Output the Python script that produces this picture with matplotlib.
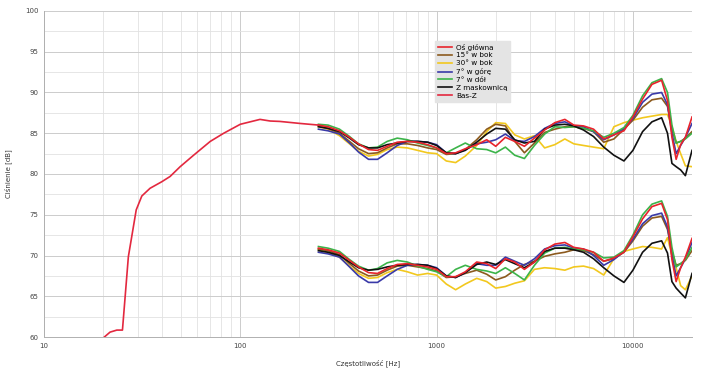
import matplotlib
matplotlib.use('Agg')
import matplotlib.pyplot as plt
from matplotlib.ticker import FixedLocator, MultipleLocator, NullFormatter

# frequency grid shared by the measured curves (Hz)
freq = [250, 280, 320, 360, 400, 450, 500, 560, 630, 710, 800, 900, 1000,
        1120, 1250, 1400, 1600, 1800, 2000, 2240, 2500, 2800, 3150, 3550,
        4000, 4500, 5000, 5600, 6300, 7100, 8000, 9000, 10000, 11200, 12500,
        14000, 15000, 15800, 16600, 17500, 18500, 20000]

# upper group (dB)
os_glowna = [86.0, 85.8, 85.3, 84.5, 83.7, 83.0, 82.9, 83.4, 83.9, 84.0, 83.9,
             83.6, 83.2, 82.5, 82.6, 83.1, 83.6, 84.2, 83.4, 84.5, 84.0, 83.4,
             84.4, 85.4, 86.3, 86.7, 86.0, 85.9, 85.5, 84.3, 84.8, 85.3, 87.0,
             89.2, 91.0, 91.5, 89.0, 84.5, 81.8, 83.6, 84.5, 87.0]
bok_15 = [85.9, 85.6, 85.0, 84.0, 83.1, 82.5, 82.6, 83.2, 83.7, 83.7, 83.5,
          83.2, 83.0, 82.4, 82.5, 83.0, 84.2, 85.5, 86.1, 85.9, 84.0, 82.6,
          83.8, 85.1, 85.5, 85.8, 85.8, 85.6, 85.2, 83.9, 84.3, 85.5, 86.6,
          88.2, 89.1, 89.3, 88.3, 85.5, 83.8, 84.0, 84.4, 85.2]
bok_30 = [85.8, 85.5, 84.7, 83.7, 82.8, 82.2, 82.4, 83.0, 83.3, 83.2, 82.9,
          82.6, 82.5, 81.6, 81.4, 82.2, 83.5, 85.2, 86.3, 86.2, 84.8, 84.3,
          84.7, 83.2, 83.6, 84.3, 83.7, 83.5, 83.3, 83.1, 85.8, 86.3, 86.6,
          86.9, 87.1, 87.3, 87.3, 85.8, 84.0, 82.5, 81.0, 80.9]
gora_7 = [85.5, 85.3, 84.9, 83.8, 82.7, 81.8, 81.8, 82.6, 83.5, 84.0, 84.0,
          83.9, 83.6, 82.6, 82.5, 83.0, 83.7, 83.9, 84.2, 84.9, 84.1, 84.0,
          84.6, 85.6, 86.2, 86.4, 85.9, 85.8, 85.2, 84.2, 84.8, 85.6, 86.8,
          88.8, 89.8, 90.0, 88.5, 85.0, 82.5, 83.5, 84.5, 86.2]
dol_7 = [86.1, 86.0, 85.5, 84.6, 83.7, 83.2, 83.3, 84.0, 84.4, 84.2, 83.8,
         83.5, 83.2, 82.6, 83.2, 83.8, 83.1, 83.0, 82.6, 83.3, 82.3, 81.9,
         83.5, 84.9, 85.8, 85.7, 85.8, 85.6, 85.3, 84.5, 85.0, 85.7, 87.2,
         89.6, 91.2, 91.7, 90.0, 86.0, 83.8, 84.0, 84.3, 85.0]
maskownica = [85.8, 85.6, 85.2, 84.4, 83.6, 83.2, 83.2, 83.6, 83.8, 84.0, 84.0,
              83.9, 83.5, 82.6, 82.5, 82.9, 83.9, 84.9, 85.6, 85.5, 84.2, 83.8,
              84.0, 85.5, 86.0, 86.1, 85.9, 85.4, 84.6, 83.3, 82.3, 81.6, 82.9,
              85.2, 86.4, 86.9, 85.0, 81.3, 80.9, 80.5, 79.8, 82.9]

# lower group (dB)
os_glowna_d = [70.9, 70.7, 70.3, 69.4, 68.6, 67.9, 67.8, 68.4, 68.9, 69.0, 68.8,
               68.6, 68.3, 67.4, 67.4, 68.0, 69.2, 69.0, 68.4, 69.6, 69.2, 68.3,
               69.2, 70.7, 71.4, 71.6, 71.0, 70.8, 70.4, 69.3, 69.7, 70.4, 72.3,
               74.5, 76.0, 76.4, 74.4, 69.5, 66.8, 68.5, 69.8, 72.1]
bok_15_d = [70.8, 70.6, 70.1, 69.0, 68.1, 67.5, 67.6, 68.2, 68.7, 68.8, 68.6,
            68.4, 68.1, 67.3, 67.4, 67.8, 68.2, 67.7, 67.0, 67.4, 68.2, 68.9,
            69.3, 69.9, 70.2, 70.4, 70.7, 70.6, 70.1, 69.3, 69.6, 70.4, 71.8,
            73.6, 74.6, 74.8, 73.2, 70.5, 68.8, 69.0, 69.4, 70.6]
bok_30_d = [70.7, 70.4, 69.8, 68.7, 67.8, 67.2, 67.3, 67.9, 68.3, 68.0, 67.6,
            67.8, 67.6, 66.5, 65.8, 66.5, 67.2, 66.8, 66.0, 66.2, 66.6, 66.9,
            68.3, 68.5, 68.4, 68.2, 68.6, 68.7, 68.4, 67.6, 69.6, 70.5, 70.8,
            71.1, 71.0, 70.8, 72.2, 70.0, 68.5, 66.3, 65.8, 67.5]
gora_7_d = [70.4, 70.2, 69.8, 68.6, 67.5, 66.7, 66.7, 67.5, 68.3, 68.8, 68.9,
            68.8, 68.5, 67.5, 67.3, 67.9, 69.0, 68.8, 68.8, 69.8, 69.3, 68.8,
            69.6, 70.8, 71.2, 71.3, 70.9, 70.8, 70.0, 68.8, 69.5, 70.5, 72.0,
            73.9, 74.9, 75.2, 73.5, 70.0, 67.5, 68.5, 69.6, 71.6]
dol_7_d = [71.1, 70.9, 70.5, 69.5, 68.7, 68.2, 68.4, 69.1, 69.4, 69.2, 68.7,
           68.3, 68.0, 67.4, 68.3, 68.8, 68.3, 68.1, 67.8, 68.5, 67.8, 67.0,
           68.8, 70.3, 70.9, 71.0, 70.8, 70.7, 70.4, 69.7, 69.8, 70.6, 72.5,
           75.0, 76.3, 76.7, 74.8, 71.0, 68.6, 69.0, 69.5, 71.0]
maskownica_d = [70.6, 70.4, 70.0, 69.2, 68.5, 68.2, 68.3, 68.6, 68.8, 68.9, 68.9,
                68.8, 68.4, 67.5, 67.3, 67.9, 68.9, 69.2, 68.9, 69.5, 69.0, 68.5,
                69.2, 70.5, 70.9, 70.9, 70.7, 70.4, 69.6, 68.5, 67.5, 66.7, 68.2,
                70.4, 71.5, 71.8, 70.3, 66.8, 66.0, 65.4, 64.8, 67.8]

# bass (near-field) curve
bas_freq = [20.3, 21.7, 23.5, 25.1, 26.9, 29.5, 31.5, 34.7, 39.8, 43.9, 49.4,
            57.8, 70.3, 82.3, 100, 126, 142, 159, 202, 251]
bas_z = [60.0, 60.6, 60.85, 60.85, 69.85, 75.6, 77.3, 78.25, 79.05, 79.7, 80.9,
         82.3, 84.0, 85.0, 86.1, 86.7, 86.5, 86.45, 86.2, 86.0]

labels = ['Oś główna', '15° w bok', '30° w bok', '7° w górę', '7° w dół',
          'Z maskownicą', 'Bas-Z']
colors = ['#e8242c', '#8c5a1e', '#f2c81e', '#3a3aa8', '#3cb44a', '#111111',
          '#e3283f']
upper = [os_glowna, bok_15, bok_30, gora_7, dol_7, maskownica]
lower = [os_glowna_d, bok_15_d, bok_30_d, gora_7_d, dol_7_d, maskownica_d]
zorders = [8, 4, 3, 5, 6, 7]


def main() -> None:
    fig = plt.figure(figsize=(7.05, 3.71), dpi=100)
    ax = fig.add_axes([0.0624, 0.0916, 0.9192, 0.8788])
    ax.set_xscale('log')

    for values, color, label, z in zip(upper, colors, labels, zorders):
        ax.plot(freq, values, color=color, linewidth=1.2, label=label, zorder=z)
    for values, color, z in zip(lower, colors, zorders):
        ax.plot(freq, values, color=color, linewidth=1.2, zorder=z)
    ax.plot(bas_freq, bas_z, color=colors[6], linewidth=1.2, label=labels[6],
            zorder=9)

    ax.set_xlim(10, 20000)
    ax.set_ylim(60, 100)
    ax.xaxis.set_major_locator(FixedLocator([10, 100, 1000, 10000]))
    ax.xaxis.set_major_formatter(plt.FuncFormatter(lambda v, _: f'{v:.0f}'))
    ax.xaxis.set_minor_formatter(NullFormatter())
    ax.yaxis.set_major_locator(MultipleLocator(5))
    ax.yaxis.set_minor_locator(MultipleLocator(2.5))
    ax.grid(True, which='major', color='#cccccc', linewidth=0.7)
    ax.grid(True, which='minor', color='#e2e2e2', linewidth=0.6)
    ax.set_axisbelow(True)
    ax.tick_params(which='both', length=0, labelsize=5, colors='#444444',
                   pad=4)
    for side in ['top', 'right']:
        ax.spines[side].set_visible(False)
    for side in ['left', 'bottom']:
        ax.spines[side].set_color('#b0b0b0')
        ax.spines[side].set_linewidth(0.7)

    ax.set_xlabel('Częstotliwość [Hz]', fontsize=5, color='#333333', labelpad=8)
    ax.set_ylabel('Ciśnienie [dB]', fontsize=5, color='#333333', labelpad=9)

    legend = ax.legend(loc='upper left', bbox_to_anchor=(0.598, 0.92),
                       fontsize=5.2, frameon=True, fancybox=False,
                       handlelength=2.0, handletextpad=0.5, labelspacing=0.25,
                       borderpad=0.4)
    legend.get_frame().set_facecolor('#e4e4e4')
    legend.get_frame().set_edgecolor('#e4e4e4')
    legend.get_frame().set_alpha(1.0)

    fig.savefig('out.png', dpi=100)


if __name__ == '__main__':
    main()
